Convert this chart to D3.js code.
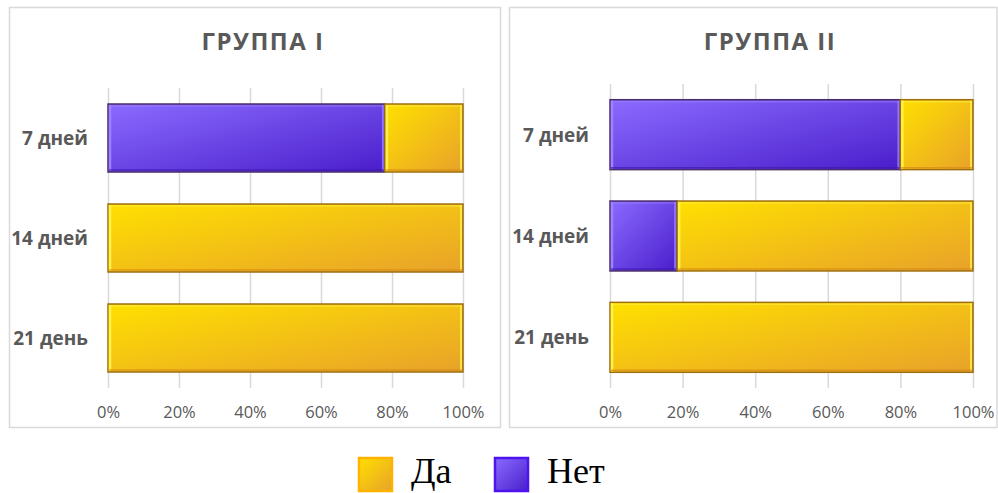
<!DOCTYPE html>
<html>
<head>
<meta charset="utf-8">
<script src="https://cdn.jsdelivr.net/npm/d3@7"></script>
<style>
  html, body { margin: 0; padding: 0; background: #fff; }
  svg { display: block; }
</style>
</head>
<body>
<svg id="chart" width="998" height="493"></svg>
<script>
// Categories (days) and the two answer series, in percent
const categories = ["7 дней", "14 дней", "21 день"];
const seriesKeys = ["Нет", "Да"];
const legendOrder = ["Да", "Нет"];
const titles = ["ГРУППА I", "ГРУППА II"];

const group1Net = [78, 0, 0];
const group1Da  = [22, 100, 100];
const group2Net = [80, 18.5, 0];
const group2Da  = [20, 81.5, 100];

const tickValues = [0, 20, 40, 60, 80, 100];

const svg = d3.select("#chart");
const defs = svg.append("defs");

// Fill styles per series
const style = {
  "Да":  { c0: "#FFE000", c1: "#E8A22A", outline: "#9E6E10", hi: "#FFF24A", lo: "#D58A16", swatchStroke: "#FFB300" },
  "Нет": { c0: "#8A6BFF", c1: "#4A1ECB", outline: "#4B2C6B", hi: "#9C82FF", lo: "#3E19B0", swatchStroke: "#4E14F0" }
};
Object.entries(style).forEach(([k, s], i) => {
  const g = defs.append("linearGradient").attr("id", "grad" + i)
    .attr("x1", 0).attr("y1", 0).attr("x2", 1).attr("y2", 1);
  g.append("stop").attr("offset", "0%").attr("stop-color", s.c0);
  g.append("stop").attr("offset", "100%").attr("stop-color", s.c1);
  s.grad = "url(#grad" + i + ")";
});

const panels = [
  { title: titles[0], net: group1Net, da: group1Da,
    box: { x: 9, y: 7, w: 491, h: 420 },
    plot: { x0: 108, x1: 463, y0: 88, y1: 388 }, pad: 0.32, titleX: 263, labelX: 88 },
  { title: titles[1], net: group2Net, da: group2Da,
    box: { x: 509, y: 7, w: 487.5, h: 420 },
    plot: { x0: 610, x1: 973, y0: 84, y1: 388 }, pad: 0.31, titleX: 770, labelX: 589 }
];

const font = "'Open Sans', 'Noto Sans', sans-serif";

panels.forEach(p => {
  const g = svg.append("g");

  // Panel frame
  g.append("rect")
    .attr("x", p.box.x + 0.5).attr("y", p.box.y + 0.5)
    .attr("width", p.box.w).attr("height", p.box.h)
    .attr("fill", "#fff").attr("stroke", "#d9d9d9").attr("stroke-width", 1.5);

  // Title
  g.append("text")
    .attr("x", p.titleX).attr("y", 50)
    .attr("text-anchor", "middle")
    .attr("font-family", font).attr("font-weight", 700)
    .attr("font-size", 24).attr("letter-spacing", 1.5)
    .attr("fill", "#595959")
    .text(p.title);

  const x = d3.scaleLinear().domain([0, 100]).range([p.plot.x0, p.plot.x1]);
  const y = d3.scaleBand().domain(categories).range([p.plot.y0, p.plot.y1])
    .paddingInner(p.pad).paddingOuter(p.pad / 2);

  // Vertical gridlines + percentage labels
  const xAxis = d3.axisBottom(x).tickValues(tickValues)
    .tickFormat(d => d + "%")
    .tickSize(-(p.plot.y1 - p.plot.y0)).tickPadding(0);
  const ax = g.append("g")
    .attr("transform", `translate(0,${p.plot.y1})`)
    .call(xAxis);
  ax.select(".domain").remove();
  ax.selectAll(".tick line").attr("stroke", "#d9d9d9").attr("stroke-width", 1.5);
  ax.selectAll(".tick text")
    .attr("y", 30).attr("dy", null)
    .attr("font-family", font).attr("font-size", 16.5)
    .attr("fill", "#595959");

  // Category labels
  const yAxis = d3.axisLeft(y).tickSize(0).tickPadding(0);
  const ay = g.append("g").attr("transform", `translate(${p.labelX},0)`).call(yAxis);
  ay.select(".domain").remove();
  ay.selectAll(".tick text")
    .attr("dy", "0.36em")
    .attr("font-family", font).attr("font-weight", 700).attr("font-size", 19)
    .attr("fill", "#595959");

  // Stacked segments
  const rows = categories.map((c, i) => ({ cat: c, "Нет": p.net[i], "Да": p.da[i] }));
  const stacked = d3.stack().keys(seriesKeys)(rows);

  stacked.forEach(layer => {
    const s = style[layer.key];
    const segs = layer.map(d => ({ cat: d.data.cat, x0: d[0], x1: d[1] }))
      .filter(d => d.x1 - d.x0 > 0);
    const sg = g.append("g").selectAll("g").data(segs).join("g");

    sg.append("rect")
      .attr("x", d => x(d.x0)).attr("y", d => y(d.cat))
      .attr("width", d => x(d.x1) - x(d.x0)).attr("height", y.bandwidth())
      .attr("fill", s.grad).attr("stroke", s.outline).attr("stroke-width", 1.5);

    // Bevel highlights along the inner edges
    sg.append("line")
      .attr("x1", d => x(d.x0) + 2).attr("x2", d => x(d.x0) + 2)
      .attr("y1", d => y(d.cat) + 1).attr("y2", d => y(d.cat) + y.bandwidth() - 1)
      .attr("stroke", s.hi).attr("stroke-width", 2.5);
    sg.append("line")
      .attr("x1", d => x(d.x1) - 2).attr("x2", d => x(d.x1) - 2)
      .attr("y1", d => y(d.cat) + 1).attr("y2", d => y(d.cat) + y.bandwidth() - 1)
      .attr("stroke", s.hi).attr("stroke-width", 2).attr("opacity", 0.8);
    sg.append("line")
      .attr("x1", d => x(d.x0) + 1).attr("x2", d => x(d.x1) - 1)
      .attr("y1", d => y(d.cat) + 2).attr("y2", d => y(d.cat) + 2)
      .attr("stroke", s.hi).attr("stroke-width", 1.5).attr("opacity", 0.5);
    sg.append("line")
      .attr("x1", d => x(d.x0) + 1).attr("x2", d => x(d.x1) - 1)
      .attr("y1", d => y(d.cat) + y.bandwidth() - 2).attr("y2", d => y(d.cat) + y.bandwidth() - 2)
      .attr("stroke", s.lo).attr("stroke-width", 1.5).attr("opacity", 0.7);
  });
});

// Legend
const legendX = d3.scaleOrdinal().domain(legendOrder).range([358, 494]);
const lg = svg.append("g").selectAll("g").data(legendOrder).join("g")
  .attr("transform", d => `translate(${legendX(d)},457)`);
lg.append("rect")
  .attr("x", 1).attr("y", 1).attr("width", 33).attr("height", 33)
  .attr("fill", d => style[d].grad)
  .attr("stroke", d => style[d].swatchStroke).attr("stroke-width", 2.5);
lg.append("text")
  .attr("x", 53).attr("y", 26)
  .attr("font-family", "'Liberation Serif', 'Times New Roman', serif")
  .attr("font-size", 36).attr("fill", "#000")
  .text(d => d);
</script>
</body>
</html>
